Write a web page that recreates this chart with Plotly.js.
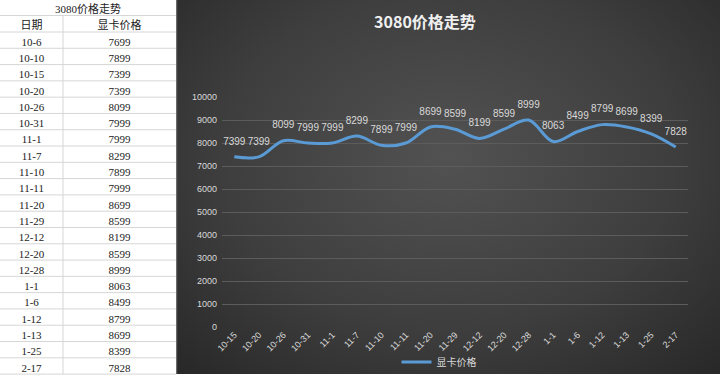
<!DOCTYPE html>
<html>
<head>
<meta charset="utf-8">
<script src="https://cdn.plot.ly/plotly-3.0.1.min.js"></script>
<style>html,body{margin:0;padding:0;background:#fff;}#chart{width:720px;height:376px;}</style>
</head>
<body>
<div id="chart"></div>
<script>
// Table data (all rows)
const tableDates = ["10-6","10-10","10-15","10-20","10-26","10-31","11-1","11-7","11-10","11-11","11-20","11-29","12-12","12-20","12-28","1-1","1-6","1-12","1-13","1-25","2-17"];
const tablePrices = [7699,7899,7399,7399,8099,7999,7999,8299,7899,7999,8699,8599,8199,8599,8999,8063,8499,8799,8699,8399,7828];
// Chart data (series plotted)
const chartDates = ["10-15","10-20","10-26","10-31","11-1","11-7","11-10","11-11","11-20","11-29","12-12","12-20","12-28","1-1","1-6","1-12","1-13","1-25","2-17"];
const chartPrices = [7399,7399,8099,7999,7999,8299,7899,7999,8699,8599,8199,8599,8999,8063,8499,8799,8699,8399,7828];
const tableTitle = "3080价格走势";
const headers = ["日期","显卡价格"];
const seriesName = "显卡价格";

const W = 720, H = 376;
const serif = "'Liberation Serif', 'Times New Roman', 'Noto Sans CJK SC', serif";
const svg = '<svg xmlns="http://www.w3.org/2000/svg" width="544" height="374" viewBox="0 0 544 374" preserveAspectRatio="none">' +
  '<defs><radialGradient id="g" cx="0.5" cy="0.42" r="0.75" gradientTransform="translate(0.5 0.42) scale(1 1.1) translate(-0.5 -0.42)">' +
  '<stop offset="0" stop-color="#525252"/><stop offset="0.55" stop-color="#3e3e3e"/><stop offset="1" stop-color="#262626"/></radialGradient></defs>' +
  '<rect width="544" height="374" fill="url(#g)"/><rect x="0" y="0" width="1.2" height="374" fill="#6a6a6a"/></svg>';
const bgSrc = 'data:image/svg+xml;charset=utf-8,' + encodeURIComponent(svg);

// table geometry (px)
const tblTop = 15.5, hdrH = 16.5, rowH = 16.29, col1W = 63, tblW = 176, textLift = 2.5;

const tableTrace = {
  type: 'table',
  domain: {x: [0, tblW/W], y: [0, 1 - (tblTop - textLift)/H]},
  columnwidth: [col1W, tblW - col1W],
  header: {
    values: headers,
    height: hdrH,
    align: 'center',
    fill: {color: '#ffffff'},
    line: {color: 'rgba(255,255,255,0)', width: 0},
    font: {family: serif, size: 11, color: '#222'}
  },
  cells: {
    values: [tableDates, tablePrices.map(String)],
    height: rowH,
    align: 'center',
    fill: {color: '#ffffff'},
    line: {color: 'rgba(255,255,255,0)', width: 0},
    font: {family: serif, size: 11, color: '#222'}
  }
};

const lineTrace = {
  type: 'scatter',
  mode: 'lines+markers+text',
  name: seriesName,
  x: chartDates,
  y: chartPrices,
  text: chartPrices.map(String),
  textposition: 'top center',
  textfont: {family: 'Liberation Sans, Arial, sans-serif', size: 10, color: '#d9d9d9'},
  line: {color: '#5b9bd5', width: 3, shape: 'spline', smoothing: 1},
  marker: {size: 14, color: 'rgba(0,0,0,0)'},
  cliponaxis: false,
  xaxis: 'x', yaxis: 'y'
};

// table grid lines (layout decoration)
const tableShapes = [];
const nLines = tableDates.length + 2;
for (let i = 0; i < nLines; i++) {
  const yPx = i === 0 ? tblTop : tblTop + hdrH + (i - 1) * rowH;
  tableShapes.push({type: 'line', xref: 'paper', yref: 'paper', x0: 0, x1: tblW/W,
    y0: 1 - yPx/H, y1: 1 - yPx/H, line: {color: '#d6d6d6', width: 1}});
}
const tblBottom = tblTop + hdrH + tableDates.length * rowH;
tableShapes.push({type: 'line', xref: 'paper', yref: 'paper', x0: col1W/W, x1: col1W/W,
  y0: 1 - tblTop/H, y1: 1 - tblBottom/H, line: {color: '#d6d6d6', width: 1}});

const layout = {
  width: W, height: H,
  margin: {l: 0, r: 0, t: 0, b: 0, autoexpand: false},
  paper_bgcolor: '#ffffff',
  plot_bgcolor: 'rgba(0,0,0,0)',
  showlegend: true,
  title: {
    text: tableTitle,
    x: 425/W, xanchor: 'center', xref: 'paper',
    y: 1 - 22/H, yanchor: 'middle', yref: 'paper',
    font: {family: 'Noto Sans CJK SC, sans-serif', size: 16, color: '#f0f0f0', weight: 'bold'}
  },
  images: [{
    source: bgSrc, xref: 'paper', yref: 'paper',
    x: 176/W, y: 1, sizex: (W-176)/W, sizey: 374/H,
    xanchor: 'left', yanchor: 'top', sizing: 'stretch', layer: 'below'
  }],
  xaxis: {
    domain: [222/W, 688/W],
    type: 'category',
    range: [-0.5, chartDates.length - 0.5],
    automargin: false,
    tickangle: -45,
    tickfont: {family: 'Liberation Sans, Arial, sans-serif', size: 9, color: '#d9d9d9'},
    showgrid: false, zeroline: false, showline: false, ticks: '',
    fixedrange: true
  },
  yaxis: {
    domain: [(H-327)/H, (H-97)/H],
    range: [0, 10000],
    dtick: 1000,
    tickformat: 'd',
    automargin: false,
    tickfont: {family: 'Liberation Sans, Arial, sans-serif', size: 9, color: '#d9d9d9'},
    gridcolor: '#5c5c5c', gridwidth: 1,
    zeroline: false, showline: false, ticks: '',
    ticklabelstandoff: 4,
    fixedrange: true
  },
  legend: {
    orientation: 'h',
    x: 439/W, xanchor: 'center',
    y: 1 - 362/H, yanchor: 'middle',
    bgcolor: 'rgba(0,0,0,0)',
    font: {family: serif, size: 10, color: '#d9d9d9'},
    itemwidth: 30
  },
  annotations: [{
    text: tableTitle, xref: 'paper', yref: 'paper',
    x: 88/W, y: 1 - 8/H, xanchor: 'center', yanchor: 'middle', showarrow: false,
    font: {family: serif, size: 11, color: '#222'}
  }],
  shapes: tableShapes
};

Plotly.newPlot('chart', [tableTrace, lineTrace], layout, {displayModeBar: false, staticPlot: true});
</script>
</body>
</html>
